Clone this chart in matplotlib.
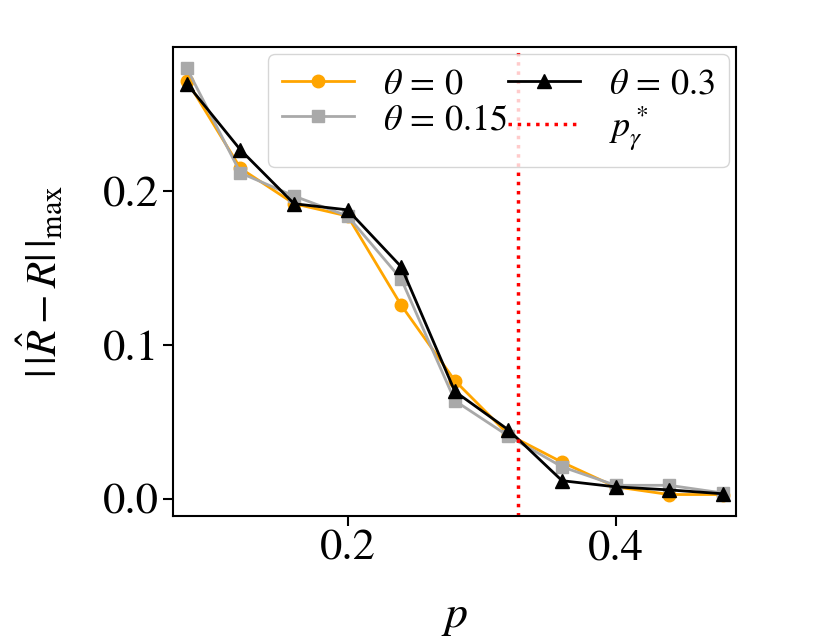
import matplotlib
matplotlib.use("Agg")
import matplotlib.pyplot as plt

plt.rcParams["font.family"] = "STIXGeneral"
plt.rcParams["mathtext.fontset"] = "stix"

# values
p_values = [0.08, 0.12, 0.16, 0.20, 0.24, 0.28, 0.32, 0.36, 0.40, 0.44, 0.48]
err_theta_0 = [0.272, 0.215, 0.192, 0.184, 0.126, 0.077, 0.042, 0.024, 0.008, 0.003, 0.003]
err_theta_015 = [0.280, 0.212, 0.197, 0.184, 0.143, 0.064, 0.041, 0.021, 0.009, 0.009, 0.004]
err_theta_03 = [0.270, 0.227, 0.192, 0.188, 0.151, 0.070, 0.045, 0.012, 0.008, 0.006, 0.0035]
p_star = 0.327
labels = [r"$\theta\,=\,0$", r"$\theta\,=\,0.15$", r"$\theta\,=\,0.3$", r"$p^*_\gamma$"]

fig = plt.figure(figsize=(8.3, 6.44), dpi=100)
ax = fig.add_axes([0.209, 0.199, 0.678, 0.728])

ax.plot(p_values, err_theta_0, color="orange", marker="o", lw=2, ms=9, label=labels[0])
ax.plot(p_values, err_theta_015, color="darkgray", marker="s", lw=2, ms=9, label=labels[1])
ax.plot(p_values, err_theta_03, color="black", marker="^", lw=2, ms=10, label=labels[2])
ax.axvline(p_star, color="red", ls=":", lw=2.5, label=labels[3])

ax.set_xlim(0.07, 0.49)
ax.set_xticks([0.2, 0.4])
ax.set_yticks([0.0, 0.1, 0.2])
ax.tick_params(labelsize=32, width=1.5, length=7)
for side in ax.spines.values():
    side.set_linewidth(1.5)

ax.set_xlabel(r"$p$", fontsize=33, labelpad=20)
ax.set_ylabel(r"$|\,|\hat{R} - R|\,|_{\max}$", fontsize=31, labelpad=26)

ax.legend(loc="upper right", ncol=2, fontsize=26, columnspacing=0.0,
          handlelength=2.0, borderaxespad=0.2, labelspacing=0.05)

fig.savefig("out.png", dpi=100)
